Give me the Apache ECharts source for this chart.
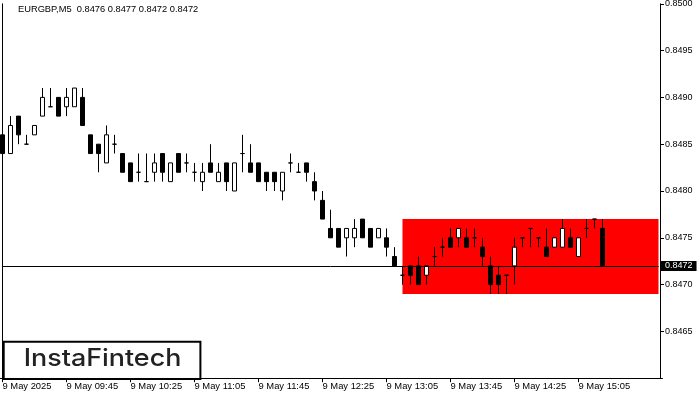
<!DOCTYPE html>
<html><head><meta charset="utf-8">
<script src="https://cdn.jsdelivr.net/npm/echarts@6/dist/echarts.min.js"></script>
<style>html,body{margin:0;padding:0;background:#fff}#c{width:700px;height:400px}</style>
</head><body><div id="c"></div>
<script>
const titleText = 'EURGBP,M5  0.8476 0.8477 0.8472 0.8472';
const currentPrice = 0.8472;
const zoneHigh = 0.8477;
const zoneLow = 0.8469;
const zoneStartBar = 50;

const opens = [0.8486,0.8484,0.8488,0.8485,0.8486,0.8488,0.8489,0.8490,0.8489,0.8489,
0.8490,0.8486,0.8485,0.8483,0.8485,0.8484,0.8483,0.8482,0.8481,0.8482,
0.8484,0.8481,0.8484,0.8483,0.8482,0.8481,0.8483,0.8481,0.8483,0.8480,
0.8484,0.8483,0.8483,0.8482,0.8482,0.8480,0.8483,0.8482,0.8483,0.8481,
0.8479,0.8476,0.8476,0.8475,0.8475,0.8477,0.8476,0.8475,0.8475,0.8473,
0.8471,0.8472,0.8472,0.8471,0.8473,0.8474,0.8475,0.8475,0.8475,0.8475,
0.8474,0.8472,0.8471,0.8471,0.8472,0.8475,0.8476,0.8475,0.8474,0.8474,
0.8474,0.8475,0.8473,0.8476,0.8477,0.8476];
const highs = [0.8486,0.8488,0.8488,0.8486,0.8487,0.8491,0.8491,0.8490,0.8491,0.8491,
0.8491,0.8486,0.8485,0.8487,0.8486,0.8484,0.8483,0.8484,0.8484,0.8484,
0.8484,0.8483,0.8484,0.8484,0.8483,0.8483,0.8485,0.8483,0.8483,0.8483,
0.8486,0.8485,0.8483,0.8482,0.8482,0.8482,0.8484,0.8483,0.8483,0.8482,
0.8480,0.8478,0.8476,0.8476,0.8477,0.8477,0.8476,0.8476,0.8476,0.8474,
0.8472,0.8472,0.8473,0.8472,0.8474,0.8475,0.8476,0.8476,0.8476,0.8476,
0.8475,0.8473,0.8472,0.8471,0.8475,0.8475,0.8476,0.8475,0.8476,0.8475,
0.8477,0.8476,0.8475,0.8477,0.8477,0.8477];
const lows = [0.8484,0.8484,0.8485,0.8485,0.8486,0.8488,0.8489,0.8488,0.8488,0.8489,
0.8487,0.8484,0.8482,0.8483,0.8484,0.8482,0.8481,0.8481,0.8481,0.8481,
0.8481,0.8481,0.8482,0.8482,0.8481,0.8480,0.8482,0.8481,0.8480,0.8480,
0.8482,0.8482,0.8481,0.8480,0.8480,0.8479,0.8482,0.8482,0.8481,0.8479,
0.8477,0.8475,0.8474,0.8473,0.8474,0.8475,0.8474,0.8475,0.8473,0.8472,
0.8470,0.8470,0.8470,0.8470,0.8472,0.8473,0.8474,0.8474,0.8474,0.8474,
0.8472,0.8469,0.8469,0.8469,0.8470,0.8474,0.8474,0.8474,0.8473,0.8474,
0.8474,0.8474,0.8473,0.8475,0.8476,0.8472];
const closes = [0.8484,0.8487,0.8486,0.8485,0.8487,0.8490,0.8489,0.8488,0.8490,0.8491,
0.8487,0.8484,0.8484,0.8486,0.8485,0.8482,0.8481,0.8482,0.8481,0.8483,
0.8482,0.8483,0.8482,0.8483,0.8482,0.8482,0.8482,0.8482,0.8481,0.8483,
0.8484,0.8482,0.8481,0.8481,0.8481,0.8482,0.8483,0.8482,0.8482,0.8480,
0.8477,0.8475,0.8474,0.8476,0.8476,0.8475,0.8474,0.8476,0.8474,0.8472,
0.8471,0.8471,0.8470,0.8472,0.8473,0.8474,0.8474,0.8476,0.8474,0.8475,
0.8473,0.8470,0.8470,0.8471,0.8474,0.8475,0.8476,0.8475,0.8473,0.8475,
0.8476,0.8474,0.8475,0.8476,0.8477,0.8472];

const tickLabels = ['9 May 2025','9 May 09:45','9 May 10:25','9 May 11:05','9 May 11:45',
'9 May 12:25','9 May 13:05','9 May 13:45','9 May 14:25','9 May 15:05'];
const tickEvery = 8;
const emptyBarsRight = 7;

// category axis: one slot per 5-minute bar (09:05 onward) plus empty shift space
const cats = [];
for (let i = 0; i < opens.length + emptyBarsRight; i++) {
  const m = 9 * 60 + 5 + 5 * i;
  cats.push(String(Math.floor(m / 60)).padStart(2, '0') + ':' + String(m % 60).padStart(2, '0'));
}
const candleData = opens.map((o, i) => [o, closes[i], lows[i], highs[i]]);
const lastIdx = cats.length - 1;
const isTick = (i) => i % tickEvery === 0 && i / tickEvery < tickLabels.length;

const FONT = 'Liberation Sans';
const chart = echarts.init(document.getElementById('c'));
chart.setOption({
  animation: false,
  backgroundColor: '#fff',
  title: {
    text: titleText, left: 18, top: 4.5, padding: 0,
    textStyle: { fontSize: 9.3, fontWeight: 'normal', color: '#000', fontFamily: FONT }
  },
  grid: { left: -1.5, right: 37.5, top: 3.8, bottom: 21.8, containLabel: false, outerBoundsMode: 'none' },
  xAxis: {
    type: 'category', data: cats, boundaryGap: true,
    axisLine: { lineStyle: { color: '#000', width: 1 } },
    axisTick: { show: true, alignWithLabel: true, length: 4, interval: (i) => isTick(i), lineStyle: { color: '#000' } },
    axisLabel: {
      interval: (i) => isTick(i), align: 'left', margin: 4,
      formatter: (v, i) => isTick(i) ? tickLabels[i / tickEvery] : '',
      color: '#000', fontSize: 9.4, fontFamily: FONT
    },
    splitLine: { show: false }
  },
  yAxis: [{
    type: 'value', position: 'right', offset: -2.5,
    min: 0.8460, max: 0.8500, interval: 0.0005,
    axisLine: { show: true, lineStyle: { color: '#000', width: 1 } },
    axisTick: { show: true, length: 4, lineStyle: { color: '#000' } },
    axisLabel: { showMinLabel: false, margin: 5, formatter: (v) => v.toFixed(4), color: '#000', fontSize: 9, fontFamily: FONT },
    splitLine: { show: false }
  }, {
    type: 'value', position: 'left', offset: -3.5,
    min: 0.8460, max: 0.8500,
    axisLine: { show: true, lineStyle: { color: '#000', width: 1 } },
    axisTick: { show: false }, axisLabel: { show: false }, splitLine: { show: false }
  }],
  series: [{
    type: 'candlestick',
    data: candleData,
    barWidth: 4,
    z: 3,
    itemStyle: { color: '#fff', color0: '#000', borderColor: '#000', borderColor0: '#000', borderColorDoji: '#000', borderWidth: 1 },
    emphasis: { disabled: true },
    markArea: {
      silent: true,
      itemStyle: { color: '#ff0000', opacity: 1, borderWidth: 0 },
      data: [[{ xAxis: zoneStartBar, yAxis: zoneHigh }, { xAxis: lastIdx, yAxis: zoneLow }]]
    },
    markLine: {
      silent: true, symbol: ['none', 'none'],
      lineStyle: { color: '#000', width: 1, type: 'solid' },
      label: {
        show: true, position: 'end', distance: 2.5,
        formatter: currentPrice.toFixed(4),
        color: '#fff', backgroundColor: '#000', padding: [0, 4, 0, 4],
        fontSize: 9, lineHeight: 10, fontFamily: FONT
      },
      data: [[{ xAxis: 0, yAxis: currentPrice }, { xAxis: lastIdx, yAxis: currentPrice }]]
    }
  }],
  graphic: [{
    type: 'rect', z: 100, shape: { x: 3.7, y: 341.7, width: 196.7, height: 37.3 },
    style: { fill: '#fff', stroke: '#000', lineWidth: 2 }
  }, {
    type: 'text', z: 101, x: 102.5, y: 359, scaleX: 1.12,
    style: { text: 'InstaFintech', fill: '#222', fontSize: 24, fontWeight: 500, fontFamily: 'Inter', align: 'center', verticalAlign: 'middle' }
  }]
});
</script></body></html>
